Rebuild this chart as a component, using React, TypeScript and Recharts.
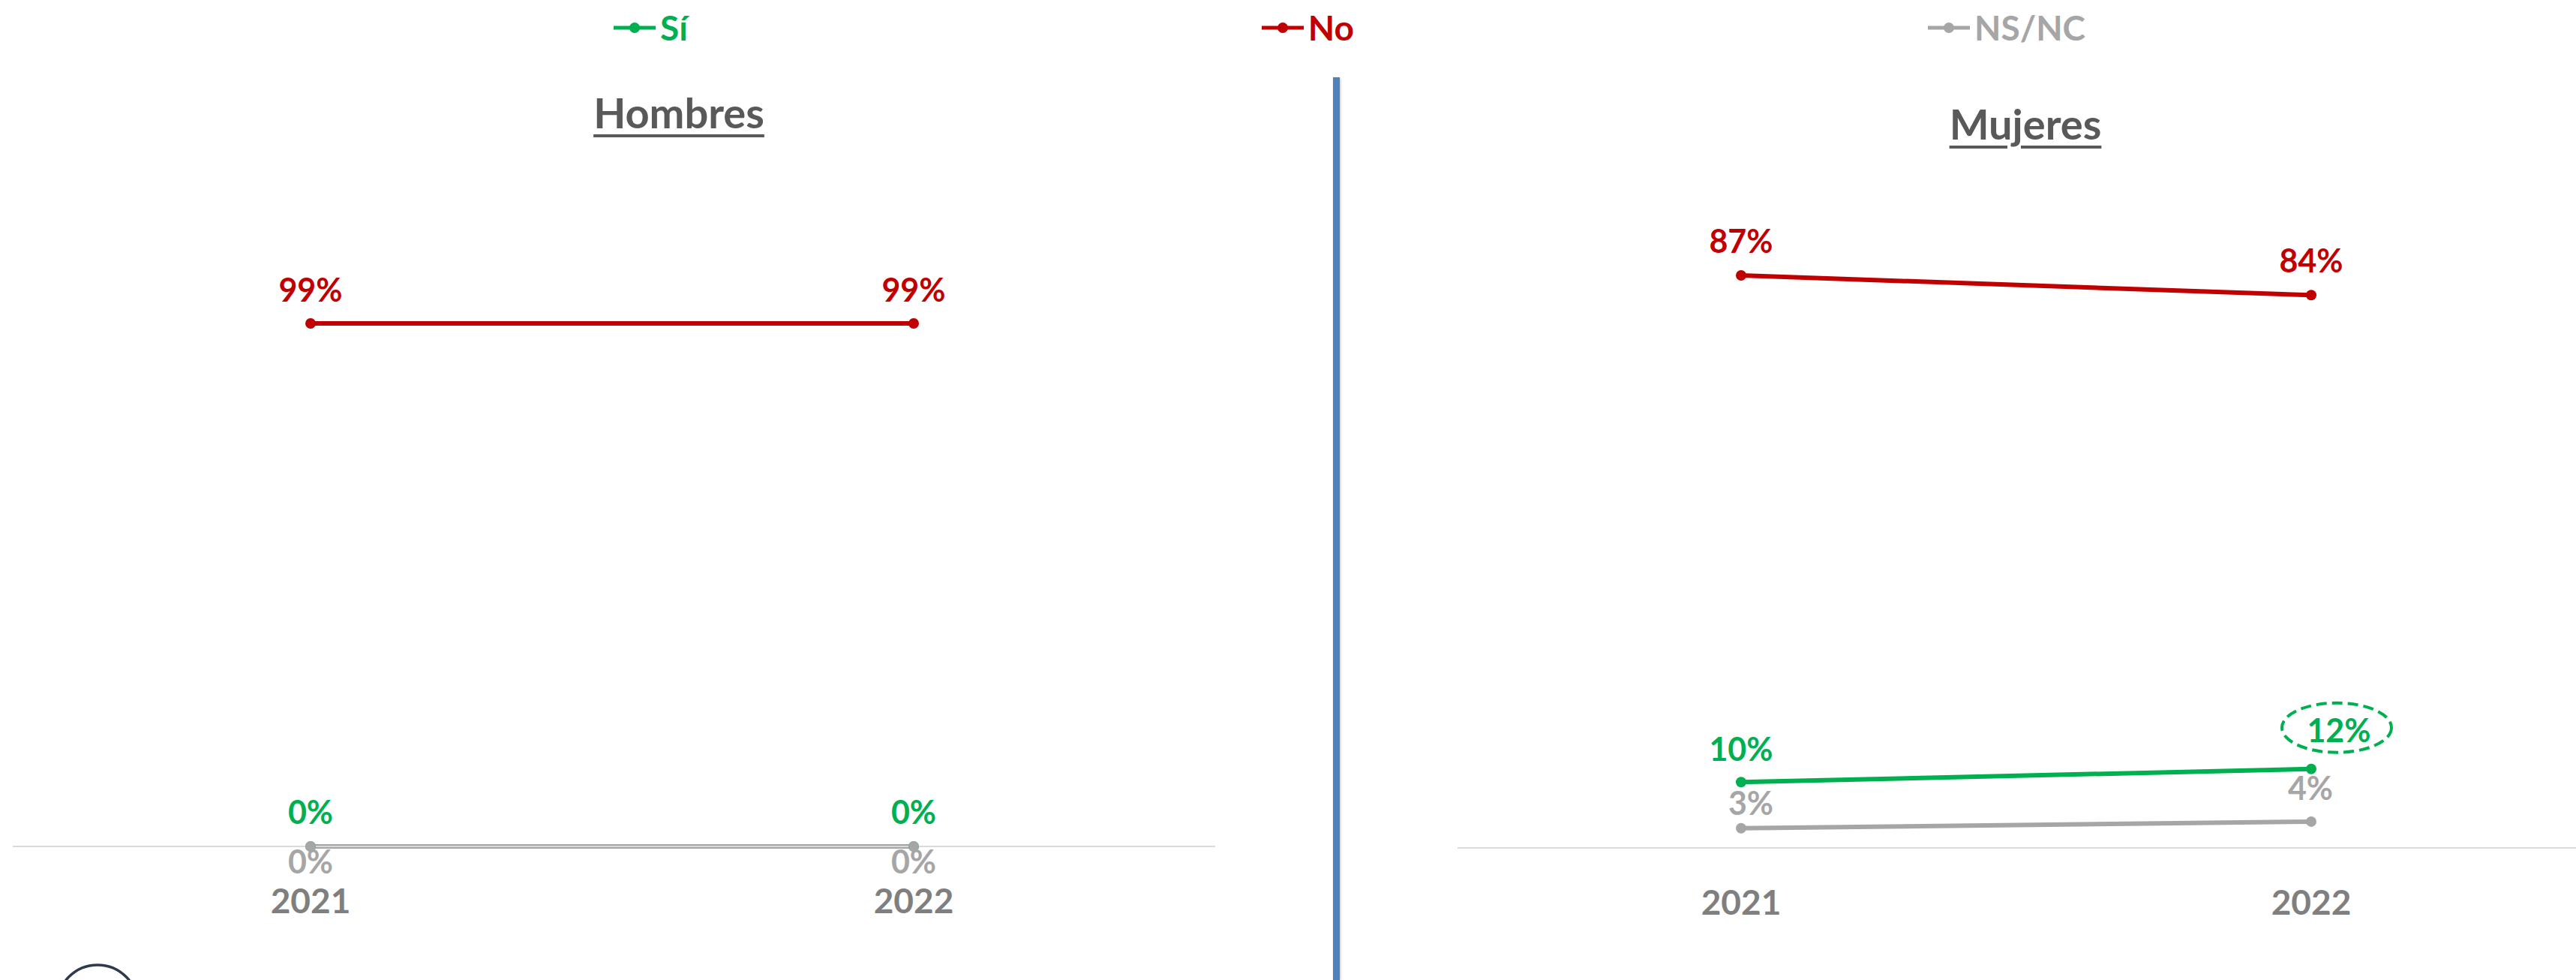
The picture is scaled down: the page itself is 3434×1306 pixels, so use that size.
import React from 'react';
import {LineChart, Line, XAxis, YAxis, LabelList} from 'recharts';

const years = ['2021', '2022'];
const hombresSi = [0, 0];
const hombresNo = [99, 99];
const hombresNsnc = [0, 0];
const mujeresSi = [10, 12];
const mujeresNo = [87, 84];
const mujeresNsnc = [3, 4];
const seriesNames = ['Sí', 'No', 'NS/NC'];

const GREEN = '#00b050';
const RED = '#c00000';
const GRAY = '#a6a6a6';
const COLORS = [GREEN, RED, GRAY];
const FONT = 'Lato, "Open Sans", sans-serif';

const buildRows = (si: number[], no: number[], nsnc: number[]) =>
    years.map((year, i) => ({year, si: si[i], no: no[i], nsnc: nsnc[i]}));

const hombresRows = buildRows(hombresSi, hombresNo, hombresNsnc);
const mujeresRows = buildRows(mujeresSi, mujeresNo, mujeresNsnc);

type Offset = {dx: number; dy: number};

const makeLabel = (color: string, offsets: Offset[], circled = -1) => (props: any) => {
    const {value, index} = props;
    const x = props.x ?? props.viewBox?.x;
    const y = props.y ?? props.viewBox?.y;
    const o = offsets[index] || offsets[0];
    const cx = x + o.dx;
    const cy = y + o.dy;
    return (
        <g>
            {index === circled && (
                <ellipse cx={cx - 3} cy={cy - 3} rx={73} ry={33} fill="none"
                         stroke={GREEN} strokeWidth={4} strokeDasharray="14 7"/>
            )}
            <text x={cx} y={cy} textAnchor="middle" dominantBaseline="central"
                  fill={color} fontSize={43} fontWeight={700} fontFamily={FONT}>
                {Math.round(value)}%
            </text>
        </g>
    );
};

const YearTick = (props: any) => {
    const {x, y, payload} = props;
    return (
        <text x={x} y={y + 89} textAnchor="middle" fill="#7f7f7f"
              fontSize={46} fontWeight={700} fontFamily={FONT}>
            {payload.value}
        </text>
    );
};

interface PanelProps {
    rows: any[];
    width: number;
    marginLeft: number;
    marginRight: number;
    top: number;
    axisHeight: number;
    padLeft: number;
    padRight: number;
    labels: {si: Offset[]; no: Offset[]; nsnc: Offset[]};
    circled?: number;
}

function Panel({rows, width, marginLeft, marginRight, top, axisHeight, padLeft, padRight, labels, circled = -1}: PanelProps) {
    const keys: ('si' | 'no' | 'nsnc')[] = ['si', 'no', 'nsnc'];
    return (
        <LineChart width={width} height={1306} data={rows}
                   margin={{top, right: marginRight, bottom: 0, left: marginLeft}}>
            <XAxis dataKey="year" height={axisHeight} padding={{left: padLeft, right: padRight}}
                   axisLine={{stroke: '#d9d9d9', strokeWidth: 2}} tickLine={false}
                   tickSize={0} tickMargin={0} tick={<YearTick/>} interval={0}/>
            <YAxis hide domain={[0, 100]} type="number"/>
            {keys.map((k, i) => (
                <Line key={k} dataKey={k} name={seriesNames[i]} type="linear"
                      stroke={COLORS[i]} strokeWidth={6}
                      dot={{r: 7, fill: COLORS[i], stroke: COLORS[i], strokeWidth: 0}}
                      activeDot={false} isAnimationActive={false}>
                    <LabelList dataKey={k}
                               content={makeLabel(COLORS[i], labels[k], k === 'si' ? circled : -1)}/>
                </Line>
            ))}
        </LineChart>
    );
}

const titleStyle: React.CSSProperties = {
    position: 'absolute',
    transform: 'translateX(-50%)',
    fontFamily: FONT,
    fontWeight: 700,
    fontSize: 56,
    lineHeight: '56px',
    color: '#595959',
    textDecoration: 'underline',
    textDecorationThickness: 4,
    textUnderlineOffset: 8,
    whiteSpace: 'nowrap',
};

export default function App() {
    return (
        <div style={{position: 'absolute', left: 0, top: 0, width: 3434, height: 1306,
            background: '#fff', overflow: 'hidden'}}>
            <div style={{position: 'absolute', left: 0, top: 0}}>
                <Panel rows={hombresRows} width={1700} marginLeft={17} marginRight={80}
                       top={424} axisHeight={178} padLeft={397} padRight={402}
                       labels={{
                           si: [{dx: 0, dy: -47}],
                           no: [{dx: 0, dy: -46}],
                           nsnc: [{dx: 0, dy: 19}],
                       }}/>
            </div>
            <div style={{position: 'absolute', left: 1800, top: 0}}>
                <Panel rows={mujeresRows} width={1634} marginLeft={143} marginRight={0}
                       top={253} axisHeight={176} padLeft={378} padRight={353}
                       circled={1}
                       labels={{
                           si: [{dx: 0, dy: -45}, {dx: 37, dy: -52}],
                           no: [{dx: 0, dy: -47}, {dx: 0, dy: -47}],
                           nsnc: [{dx: 13, dy: -34}, {dx: -1, dy: -45}],
                       }}/>
            </div>

            <div style={{...titleStyle, left: 905, top: 122}}>Hombres</div>
            <div style={{...titleStyle, left: 2700, top: 137}}>Mujeres</div>

            <div style={{position: 'absolute', left: 1777, top: 103, width: 9, bottom: 0,
                background: '#4f81bd', boxShadow: '1px 1px 3px rgba(0,0,0,0.25)'}}/>

            <div style={{position: 'absolute', left: 818, top: 7, height: 60, display: 'flex',
                alignItems: 'center', gap: 765}}>
                {seriesNames.map((name, i) => (
                    <div key={name} style={{display: 'flex', alignItems: 'center'}}>
                        <svg width={56} height={20}>
                            <line x1={0} y1={10} x2={56} y2={10} stroke={COLORS[i]} strokeWidth={5}/>
                            <circle cx={28} cy={10} r={7} fill={COLORS[i]}/>
                        </svg>
                        <span style={{marginLeft: 6, fontFamily: FONT, fontWeight: 700, fontSize: 46,
                            color: COLORS[i], lineHeight: '60px'}}>{name}</span>
                    </div>
                ))}
            </div>

            <svg style={{position: 'absolute', left: 0, top: 1250}} width={260} height={56}>
                <circle cx={130} cy={90} r={54} fill="none" stroke="#2e3b4e" strokeWidth={3.5}/>
            </svg>
        </div>
    );
}
